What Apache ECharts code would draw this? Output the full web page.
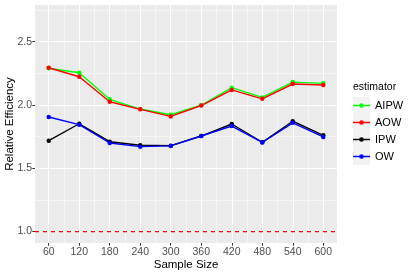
<!DOCTYPE html>
<html>
<head>
<meta charset="utf-8">
<script src="https://cdn.jsdelivr.net/npm/echarts@6/dist/echarts.min.js"></script>
<style>
html,body{margin:0;padding:0;background:#fff;}
#chart{width:415px;height:277px;}
</style>
</head>
<body>
<div id="chart"></div>
<script>
// ---- data ----
var sampleSizes = [60, 120, 180, 240, 300, 360, 420, 480, 540, 600];
var AIPW = [2.290, 2.255, 2.045, 1.968, 1.923, 1.998, 2.137, 2.060, 2.181, 2.171];
var AOW  = [2.294, 2.223, 2.026, 1.966, 1.910, 1.996, 2.119, 2.049, 2.166, 2.158];
var IPW  = [1.718, 1.852, 1.710, 1.682, 1.679, 1.755, 1.850, 1.706, 1.872, 1.761];
var OW   = [1.905, 1.845, 1.700, 1.671, 1.677, 1.755, 1.834, 1.704, 1.859, 1.748];
var seriesNames = ['AIPW', 'AOW', 'IPW', 'OW'];
var xTicks = [60, 120, 180, 240, 300, 360, 420, 480, 540, 600];
var xMinorTicks = [90, 150, 210, 270, 330, 390, 450, 510, 570];
var yTicks = [1.0, 1.5, 2.0, 2.5];
var yMinorTicks = [1.25, 1.75, 2.25, 2.75];
var refLine = 1.0;
var xRange = [33, 627];
var yRange = [0.91, 2.79];

var colors = {AIPW: '#00FF00', AOW: '#FF0000', IPW: '#000000', OW: '#0000FF'};
var values = {AIPW: AIPW, AOW: AOW, IPW: IPW, OW: OW};

function pairs(arr) {
  return sampleSizes.map(function (x, i) { return [x, arr[i]]; });
}

var chart = echarts.init(document.getElementById('chart'), null, {renderer: 'canvas'});

var legendIcon = 'path://M0,0 L0.01,0 L0.01,0.01 Z M16.99,16.99 L17,16.99 L17,17 Z ' +
  'M0,7.8 L17,7.8 L17,9.2 L0,9.2 Z ' +
  'M6.2,8.5 A2.3,2.3 0 1 1 10.8,8.5 A2.3,2.3 0 1 1 6.2,8.5 Z';

var series = seriesNames.map(function (n) {
  return {
    name: n,
    type: 'line',
    data: pairs(values[n]),
    xAxisIndex: 0, yAxisIndex: 0,
    symbol: 'circle',
    symbolSize: 4.5,
    showSymbol: true,
    color: colors[n],
    itemStyle: {color: colors[n]},
    lineStyle: {color: colors[n], width: 1.4},
    animation: false,
    silent: true
  };
});
series.push({
  name: 'reference',
  type: 'line',
  data: [[xRange[0], refLine], [xRange[1], refLine]],
  xAxisIndex: 0, yAxisIndex: 0,
  symbol: 'none',
  showSymbol: false,
  color: '#FF0000',
  z: 3,
  lineStyle: {color: '#FF0000', type: [4, 4], width: 1.2},
  animation: false,
  silent: true
});

var fontFamily = 'Liberation Sans, Arial, sans-serif';

chart.setOption({
  animation: false,
  backgroundColor: '#FFFFFF',
  grid: {
    left: 35, top: 5, width: 302, height: 238,
    containLabel: false,
    outerBoundsMode: 'none',
    show: true, backgroundColor: '#EBEBEB', borderWidth: 0
  },
  xAxis: [{
    type: 'value', min: xRange[0], max: xRange[1],
    name: 'Sample Size', nameLocation: 'middle', nameGap: 16, nameMoveOverlap: false,
    nameTextStyle: {fontSize: 11.5, color: '#000', fontFamily: fontFamily},
    axisLine: {show: false},
    axisTick: {show: true, customValues: xTicks, length: 2.7, lineStyle: {color: '#333333', width: 1}},
    axisLabel: {show: true, customValues: xTicks, fontSize: 10.5, color: '#4D4D4D', margin: 4, fontFamily: fontFamily},
    splitLine: {show: true, lineStyle: {color: '#FFFFFF', width: 1}}
  }, {
    type: 'value', min: xRange[0], max: xRange[1], position: 'top',
    axisLine: {show: false},
    axisTick: {show: false, customValues: xMinorTicks},
    axisLabel: {show: false},
    splitLine: {show: true, lineStyle: {color: '#FFFFFF', width: 0.5}}
  }],
  yAxis: [{
    type: 'value', min: yRange[0], max: yRange[1],
    name: 'Relative Efficiency', nameLocation: 'middle', nameGap: 19, nameRotate: 90, nameMoveOverlap: false,
    nameTextStyle: {fontSize: 11.5, color: '#000', fontFamily: fontFamily},
    axisLine: {show: false},
    axisTick: {show: true, customValues: yTicks, length: 2.7, lineStyle: {color: '#333333', width: 1}},
    axisLabel: {show: true, customValues: yTicks, fontSize: 10.5, color: '#4D4D4D', margin: 3,
      fontFamily: fontFamily,
      formatter: function (v) { return v.toFixed(1); }},
    splitLine: {show: true, lineStyle: {color: '#FFFFFF', width: 1}}
  }, {
    type: 'value', min: yRange[0], max: yRange[1], position: 'right',
    axisLine: {show: false},
    axisTick: {show: false, customValues: yMinorTicks},
    axisLabel: {show: false},
    splitLine: {show: true, lineStyle: {color: '#FFFFFF', width: 0.5}}
  }],
  legend: {
    data: seriesNames.map(function (n) { return {name: n, icon: legendIcon}; }),
    orient: 'vertical',
    left: 353, top: 97,
    itemWidth: 17, itemHeight: 17, itemGap: 0,
    padding: 0,
    textStyle: {fontSize: 11, color: '#000', fontFamily: fontFamily},
    selectedMode: false
  },
  graphic: [{
    type: 'rect', left: 353, top: 97, z: -1,
    shape: {width: 17, height: 68},
    style: {fill: '#F2F2F2'}
  }, {
    type: 'text', left: 353, top: 82,
    style: {text: 'estimator', fontSize: 10.5, fill: '#000', fontFamily: fontFamily}
  }],
  series: series
});
</script>
</body>
</html>
